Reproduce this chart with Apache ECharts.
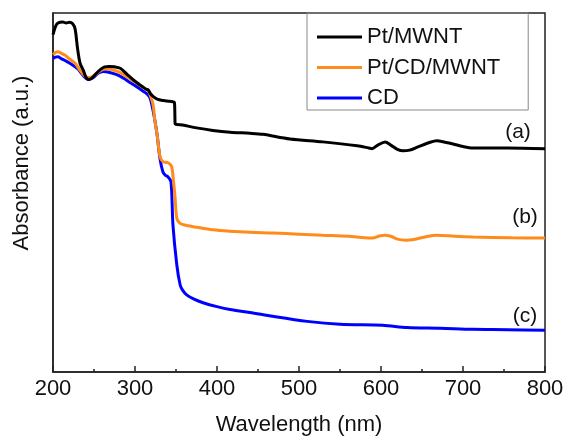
<!DOCTYPE html>
<html>
<head>
<meta charset="utf-8">
<script src="https://cdn.jsdelivr.net/npm/echarts@6/dist/echarts.min.js"></script>
<style>
  html, body { margin: 0; padding: 0; background: #fff; }
  #chart { width: 568px; height: 441px; }
</style>
</head>
<body>
<div id="chart"></div>
<script>
// wavelength (nm), absorbance (a.u., normalised to the plot height)
const ptMwnt = [
  [200, 0.94], [203, 0.962], [206, 0.972], [212, 0.975], [216, 0.972], [220, 0.974],
  [224, 0.97], [227, 0.955], [230, 0.90], [233, 0.86], [237, 0.84], [240, 0.822],
  [243, 0.815], [247, 0.818], [252, 0.83], [258, 0.843], [263, 0.85], [268, 0.851],
  [275, 0.85], [282, 0.846], [290, 0.83], [300, 0.81], [310, 0.793], [314, 0.787],
  [316, 0.786], [319, 0.775], [322, 0.768], [327, 0.76], [335, 0.756], [342, 0.754],
  [348, 0.751], [348.6, 0.72], [349, 0.691], [358, 0.688], [375, 0.68], [395, 0.673],
  [416, 0.668], [440, 0.665], [456, 0.662], [489, 0.649], [529, 0.641], [571, 0.630],
  [585, 0.624], [589, 0.622], [596, 0.632], [605, 0.641], [612, 0.632], [620, 0.62],
  [627, 0.616], [635, 0.618], [645, 0.627], [660, 0.64], [668, 0.644], [678, 0.64],
  [688, 0.635], [700, 0.628], [712, 0.624], [754, 0.624], [800, 0.622]
];
const ptCdMwnt = [
  [200, 0.884], [203, 0.89], [206, 0.892], [210, 0.888], [215, 0.882], [220, 0.872],
  [227, 0.86], [233, 0.84], [238, 0.826], [243, 0.82], [248, 0.823], [255, 0.835],
  [261, 0.843], [266, 0.845], [272, 0.842], [282, 0.834], [295, 0.815], [310, 0.793],
  [314, 0.787], [316, 0.785], [318, 0.775], [322, 0.745], [324, 0.704], [327, 0.66],
  [330.5, 0.6], [334, 0.586], [340, 0.583], [343, 0.578], [345, 0.57], [347, 0.53],
  [349, 0.483], [351, 0.428], [355, 0.414], [362, 0.409], [376, 0.403], [395, 0.396],
  [416, 0.392], [440, 0.389], [468, 0.387], [500, 0.384], [529, 0.381], [560, 0.378],
  [587, 0.373], [592, 0.374], [598, 0.379], [605, 0.381], [612, 0.378], [620, 0.37],
  [630, 0.367], [640, 0.369], [655, 0.377], [668, 0.381], [690, 0.378], [712, 0.376],
  [760, 0.374], [800, 0.373]
];
const cd = [
  [200, 0.873], [203, 0.877], [206, 0.878], [210, 0.873], [216, 0.866], [222, 0.858],
  [230, 0.845], [236, 0.828], [243, 0.815], [249, 0.82], [255, 0.832], [261, 0.837],
  [268, 0.835], [280, 0.826], [295, 0.805], [310, 0.782], [314, 0.776], [318, 0.765],
  [321, 0.74], [324, 0.704], [327, 0.66], [330.5, 0.594], [334, 0.558], [337, 0.548],
  [340, 0.544], [343.9, 0.53], [346.3, 0.409], [351, 0.298], [355, 0.243], [358, 0.228],
  [363, 0.215], [372, 0.203], [383, 0.193], [400, 0.182], [416, 0.174], [440, 0.166],
  [468, 0.155], [510, 0.141], [550, 0.133], [602, 0.13], [632, 0.124], [672, 0.122],
  [712, 0.119], [754, 0.118], [800, 0.116]
];
const names = ['Pt/MWNT', 'Pt/CD/MWNT', 'CD'];
const colors = ['#000000', '#ff8c1a', '#0000ff'];
const tags = ['(a)', '(b)', '(c)'];

const font = 'Liberation Sans, Arial, sans-serif';

let chart = echarts.init(document.getElementById('chart'));

let option = {
  backgroundColor: '#fff',
  animation: false,
  color: colors,
  grid: {
    left: 53, right: 23, top: 13, bottom: 66,
    show: true, borderColor: '#222', borderWidth: 1.5
  },
  legend: {
    orient: 'vertical',
    left: 307, top: 13,
    padding: [13, 28, 1, 10],
    itemWidth: 45, itemHeight: 3,
    itemGap: 8.5,
    icon: 'rect',
    borderColor: '#888', borderWidth: 1,
    textStyle: { fontFamily: font, fontSize: 22, color: '#111', lineHeight: 22 },
    data: names
  },
  xAxis: {
    type: 'value',
    min: 200, max: 800, interval: 100,
    name: 'Wavelength (nm)',
    nameLocation: 'middle',
    nameGap: 42,
    nameTextStyle: { fontFamily: font, fontSize: 22, color: '#111' },
    axisLine: { lineStyle: { color: '#222', width: 1.5 } },
    axisTick: { inside: true, length: 6, lineStyle: { color: '#222', width: 1.5 } },
    minorTick: { show: true, splitNumber: 2, length: 3, lineStyle: { color: '#222', width: 1.5 } },
    axisLabel: { fontFamily: font, fontSize: 22, color: '#111', margin: 6 },
    splitLine: { show: false }
  },
  yAxis: {
    type: 'value',
    min: 0, max: 1,
    axisLine: { show: true, lineStyle: { color: '#222', width: 1.5 } },
    axisTick: { show: false },
    axisLabel: { show: false },
    splitLine: { show: false }
  },
  graphic: [
    {
      type: 'text', x: 22, y: 163, rotation: Math.PI / 2,
      style: {
        text: 'Absorbance (a.u.)', font: '22px ' + font, fill: '#111',
        align: 'center', verticalAlign: 'middle'
      }
    },
    {
      type: 'text', x: 518, y: 132,
      style: { text: tags[0], font: '21px ' + font, fill: '#111', align: 'center', verticalAlign: 'middle' }
    },
    {
      type: 'text', x: 525, y: 217,
      style: { text: tags[1], font: '21px ' + font, fill: '#111', align: 'center', verticalAlign: 'middle' }
    },
    {
      type: 'text', x: 525, y: 316,
      style: { text: tags[2], font: '21px ' + font, fill: '#111', align: 'center', verticalAlign: 'middle' }
    }
  ],
  series: [ptMwnt, ptCdMwnt, cd].map((d, i) => ({
    name: names[i],
    type: 'line',
    data: d,
    showSymbol: false,
    smooth: 0.3,
    lineStyle: { width: 3, color: colors[i] },
    z: 3 - i
  }))
};

chart.setOption(option);
</script>
</body>
</html>
